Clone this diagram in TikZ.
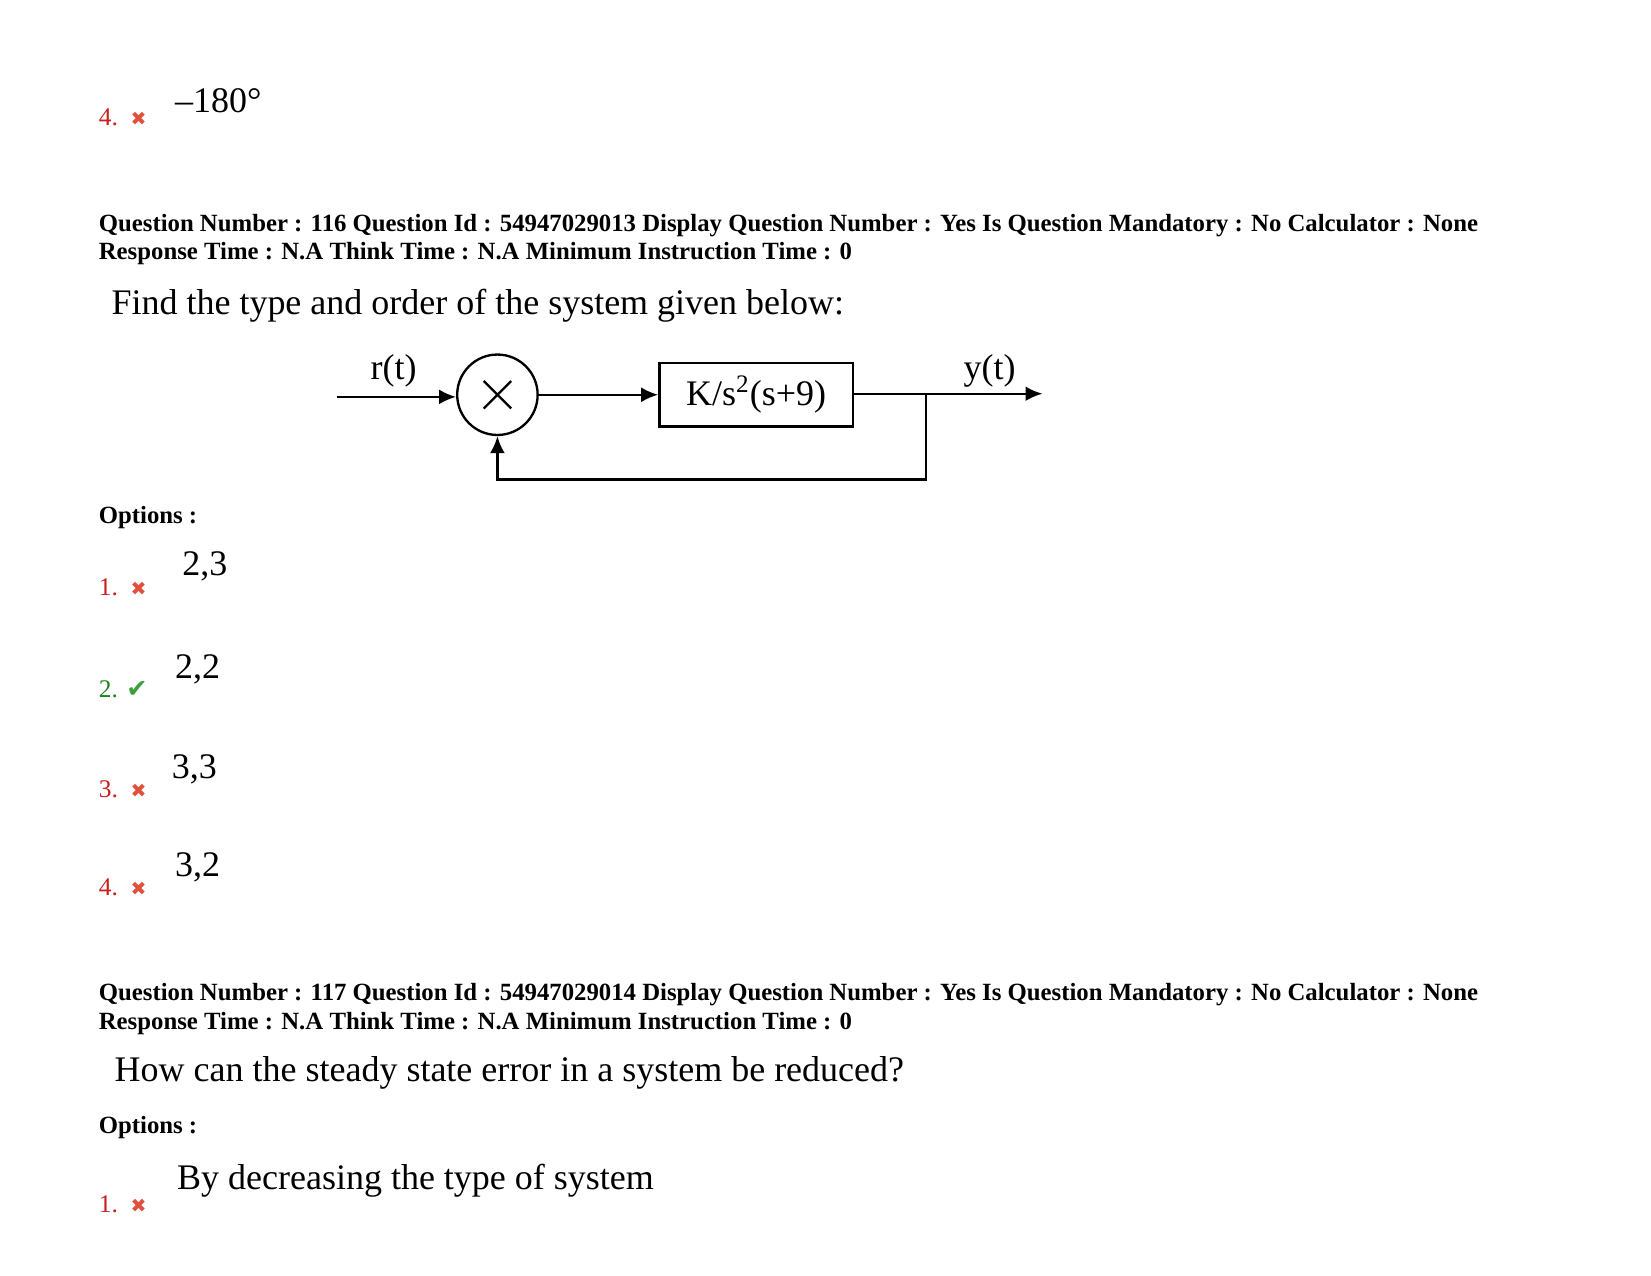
\documentclass[tikz,border=0pt]{standalone}
\usepackage{fontspec}
\setmainfont{Liberation Serif}
\newfontfamily\symfont{DejaVu Sans}
\usetikzlibrary{arrows.meta,positioning}
\definecolor{wrongred}{RGB}{225,80,60}
\definecolor{rightgreen}{RGB}{60,160,60}
\definecolor{numred}{RGB}{200,30,30}
\definecolor{numgreen}{RGB}{30,130,30}
\tikzset{
  head/.style = {anchor = west, font = \bfseries\fontsize{11.7}{14}\selectfont, inner sep = 0pt},
  qtext/.style = {anchor = west, font = \fontsize{17}{20}\selectfont, inner sep = 0pt},
  numwrong/.style = {anchor = west, font = \fontsize{12}{14}\selectfont, text = numred, inner sep = 0pt},
  numright/.style = {anchor = west, font = \fontsize{12}{14}\selectfont, text = numgreen, inner sep = 0pt},
  block/.style = {draw, line width = 1.1pt, minimum width = 91.5pt, minimum height = 30pt, font = \fontsize{17}{19}\selectfont},
  sumjn/.style = {draw, line width = 1.1pt, circle, minimum size = 38pt, inner sep = 0pt},
  sig/.style = {->, line width = 1.1pt, >={Latex[length=8pt, width=7pt]}}
}
\newcommand{\badmark}{{\symfont\color{wrongred}\fontsize{9}{9}\selectfont ✖}}
\newcommand{\goodmark}{{\symfont\color{rightgreen}\fontsize{12}{12}\selectfont ✔}}
\begin{document}
\begin{tikzpicture}[x = .5pt, y = -.5pt]
  \useasboundingbox (0,0) rectangle (1560,1205);
  % previous question
  \node[numwrong] (p4) at (93,111) {4.\hspace{6pt}\badmark};
  \node[qtext] (p4v) at (165,95) {–180°};
  % question 116
  \node[head] (h1a) at (93,213) {Question Number : 116 Question Id : 54947029013 Display Question Number : Yes Is Question Mandatory : No Calculator : None};
  \node[head] (h1b) at (93,240) {Response Time : N.A Think Time : N.A Minimum Instruction Time : 0};
  \node[qtext] (q1) at (105,289) {Find the type and order of the system given below:};
  % block diagram
  \node[sumjn] (sum) at (470,373) {};
  \draw[line width = 1.1pt] ([shift={(-13,-13)}]sum.center) -- ([shift={(13,13)}]sum.center)
               ([shift={(13,-13)}]sum.center) -- ([shift={(-13,13)}]sum.center);
  \node[block] (plant) at (714.5,373) {K/s\textsuperscript{2}(s+9)};
  \coordinate (in) at (318,375);
  \coordinate (tap) at (875,372);
  \coordinate (out) at (985,372);
  \coordinate (fb1) at (875,453);
  \coordinate (fb2) at (470,453);
  \draw[sig] (in) -- (sum.west |- in);
  \draw[sig] (sum) -- (plant);
  \draw[line width = 1.1pt] (plant.east |- tap) -- (tap);
  \draw[sig] (tap) -- (out);
  \draw[sig] (tap) -- (fb1) -- (fb2) -- (sum.south);
  \node[qtext, anchor = center] (rlab) at (372,350) {r(t)};
  \node[qtext, anchor = center] (ylab) at (935,350) {y(t)};
  % options
  \node[head] (o1) at (93,489) {Options :};
  \node[numwrong] (n1) at (93,555) {1.\hspace{6pt}\badmark};
  \node[qtext] (v1) at (172,535) {2,3};
  \node[numright] (n2) at (93,651) {2.\hspace{4pt}\goodmark};
  \node[qtext] (v2) at (165,632) {2,2};
  \node[numwrong] (n3) at (93,746) {3.\hspace{6pt}\badmark};
  \node[qtext] (v3) at (162,727) {3,3};
  \node[numwrong] (n4) at (93,838) {4.\hspace{6pt}\badmark};
  \node[qtext] (v4) at (165,820) {3,2};
  % question 117
  \node[head] (h2a) at (93,940) {Question Number : 117 Question Id : 54947029014 Display Question Number : Yes Is Question Mandatory : No Calculator : None};
  \node[head] (h2b) at (93,967) {Response Time : N.A Think Time : N.A Minimum Instruction Time : 0};
  \node[qtext] (q2) at (108,1014) {How can the steady state error in a system be reduced?};
  \node[head] (o2) at (93,1065) {Options :};
  \node[numwrong] (m1) at (93,1138) {1.\hspace{6pt}\badmark};
  \node[qtext] (w1) at (167,1116) {By decreasing the type of system};
\end{tikzpicture}
\end{document}
